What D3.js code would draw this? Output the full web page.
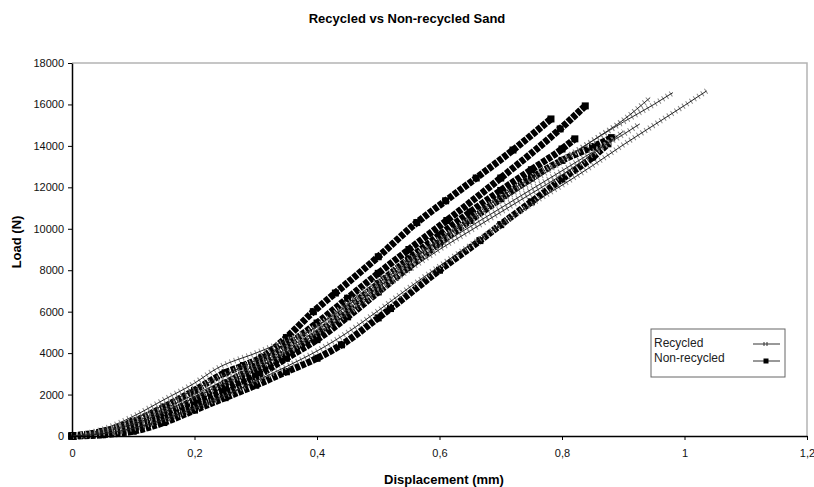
<!DOCTYPE html>
<html>
<head>
<meta charset="utf-8">
<script src="https://cdn.jsdelivr.net/npm/d3@7"></script>
<style>
	body { margin: 0; background: #fff; }
	text { font-family: Arial, "Liberation Sans", sans-serif; }
</style>
</head>
<body>
<svg id="svgCanvas" width="814" height="487"></svg>
<script>

var xTicks = [0, 0.2, 0.4, 0.6, 0.8, 1, 1.2];
var yTicks = [0, 2000, 4000, 6000, 8000, 10000, 12000, 14000, 16000, 18000];
var seriesNames = ["Recycled", "Non-recycled"];

// non-recycled specimens, [displacement mm, load N]
var nr1 = [[0,0],[0.05,220],[0.1,700],[0.15,1400],[0.2,2200],[0.25,3050],[0.28,3400],[0.31,3800],[0.35,4750],[0.394,6000],[0.43,6900],[0.5,8650],[0.563,10300],[0.61,11350],[0.66,12450],[0.72,13800],[0.782,15300]];
var nr2 = [[0,0],[0.05,160],[0.1,520],[0.15,1050],[0.2,1750],[0.25,2550],[0.3,3350],[0.35,4350],[0.4,5450],[0.45,6650],[0.5,7850],[0.55,9000],[0.612,10400],[0.7,12450],[0.797,14820],[0.838,15930]];
var nr3 = [[0,0],[0.05,130],[0.1,440],[0.15,920],[0.2,1550],[0.25,2250],[0.3,3050],[0.35,3950],[0.4,4950],[0.45,6150],[0.5,7350],[0.55,8550],[0.6,9700],[0.65,10800],[0.7,11850],[0.75,12850],[0.8,13850],[0.821,14340]];
var nr4 = [[0,0],[0.05,110],[0.1,370],[0.15,820],[0.2,1350],[0.25,2050],[0.3,2850],[0.35,3750],[0.4,4650],[0.45,5750],[0.5,6950],[0.55,8150],[0.6,9300],[0.65,10400],[0.7,11450],[0.75,12450],[0.8,13300],[0.85,13950],[0.881,14400]];
var nr5 = [[0,0],[0.05,60],[0.1,230],[0.15,650],[0.2,1250],[0.25,1850],[0.3,2450],[0.35,3100],[0.4,3750],[0.44,4400],[0.5,5700],[0.52,6150],[0.6,8000],[0.666,9430],[0.7,10200],[0.75,11300],[0.8,12400],[0.85,13450],[0.875,14100]];

// recycled specimens
var r1 = [[0,0],[0.05,320],[0.1,950],[0.15,1750],[0.2,2550],[0.236,3250],[0.3,4000],[0.35,4600],[0.389,5100],[0.45,6400],[0.5,7500],[0.55,8500],[0.6,9500],[0.65,10500],[0.7,11550],[0.764,12680],[0.85,14250],[0.9,15150],[0.95,16000],[0.981,16570]];
var r2 = [[0,0],[0.05,260],[0.1,800],[0.15,1500],[0.2,2250],[0.25,2950],[0.3,3650],[0.35,4400],[0.4,5300],[0.45,6300],[0.5,7350],[0.55,8400],[0.6,9450],[0.65,10400],[0.7,11350],[0.75,12250],[0.8,13250],[0.85,14250],[0.9,15250],[0.944,16330]];
var r3 = [[0,0],[0.05,200],[0.1,650],[0.15,1300],[0.2,2000],[0.25,2700],[0.3,3400],[0.35,4200],[0.4,5100],[0.45,6100],[0.5,7200],[0.55,8200],[0.6,9200],[0.65,10100],[0.7,11000],[0.75,11900],[0.8,12800],[0.85,13700],[0.9,14550],[0.927,15060]];
var r4 = [[0,0],[0.05,180],[0.1,560],[0.15,1150],[0.2,1850],[0.25,2550],[0.3,3250],[0.35,4050],[0.4,4950],[0.45,5900],[0.5,6950],[0.55,8000],[0.6,9000],[0.65,9900],[0.7,10800],[0.75,11700],[0.8,12600],[0.85,13600],[0.9,14700]];
var r5 = [[0,0],[0.05,110],[0.1,380],[0.15,800],[0.2,1350],[0.25,1950],[0.3,2650],[0.35,3350],[0.4,4100],[0.45,5000],[0.5,6050],[0.55,7150],[0.6,8200],[0.65,9200],[0.7,10200],[0.764,11450],[0.8,12100],[0.85,13050],[0.9,14050],[0.95,15000],[1,15950],[1.036,16650]];

var nonRecycled = [nr1, nr2, nr3, nr4, nr5];
var recycled = [r1, r2, r3, r4, r5];

var svg = d3.select("#svgCanvas");

var x = d3.scaleLinear().domain([0, 1.2]).range([72, 807]);
var y = d3.scaleLinear().domain([0, 18000]).range([436, 63]);

var line = d3.line()
	.curve(d3.curveMonotoneX)
	.x(function(d) { return x(d[0]); })
	.y(function(d) { return y(d[1]); });

function commaFormat(d){
	return String(d).replace(".", ",");
}

// plot area frame, top and right in grey
svg.append("path")
	.attr("d", "M" + x(0) + "," + y(18000) + "H" + x(1.2) + "V" + y(0))
	.attr("fill", "none")
	.attr("stroke", "#b4b4b4")
	.attr("stroke-width", 1.5);

// non-recycled: heavy black line with square markers
var nrG = svg.append("g").attr("class", "nonrecycled");
nonRecycled.forEach(function(s){
	nrG.append("path")
		.datum(s)
		.attr("d", line)
		.attr("fill", "none")
		.attr("stroke", "#000")
		.attr("stroke-width", 7)
		.attr("stroke-dasharray", "5,1.2");
	nrG.selectAll(null)
		.data(s)
		.enter().append("rect")
			.attr("x", function(d) { return x(d[0]) - 3.5; })
			.attr("y", function(d) { return y(d[1]) - 3.5; })
			.attr("width", 7)
			.attr("height", 7)
			.attr("fill", "#000");
});

// recycled: thin line with cross markers
var rG = svg.append("g").attr("class", "recycled");
recycled.forEach(function(s){
	rG.append("path")
		.datum(s)
		.attr("d", line)
		.attr("fill", "none")
		.attr("stroke", "#8a8a8a")
		.attr("stroke-width", 6)
		.attr("stroke-dasharray", "1,3.5");
	rG.append("path")
		.datum(s)
		.attr("d", line)
		.attr("fill", "none")
		.attr("stroke", "#222")
		.attr("stroke-width", 1);
});

// axes
var yAxis = svg.append("g")
	.attr("transform", "translate(" + x(0) + ",0)")
	.call(d3.axisLeft(y).tickValues(yTicks).tickFormat(d3.format("d")).tickSize(4).tickSizeOuter(0).tickPadding(4));

var xAxis = svg.append("g")
	.attr("transform", "translate(0," + y(0) + ")")
	.call(d3.axisBottom(x).tickValues(xTicks).tickFormat(commaFormat).tickSize(4).tickSizeOuter(0).tickPadding(9));

[yAxis, xAxis].forEach(function(a){
	a.select(".domain").attr("stroke", "#000").attr("stroke-width", 1.5);
	a.selectAll(".tick line").attr("stroke", "#000");
	a.selectAll("text")
		.attr("fill", "#111")
		.style("font-size", "11px")
		.style("font-family", "Arial, 'Liberation Sans', sans-serif");
});

// titles
svg.append("text")
	.attr("x", 407)
	.attr("y", 23)
	.attr("text-anchor", "middle")
	.style("font-size", "13px")
	.style("font-weight", "bold")
	.text("Recycled vs Non-recycled Sand");

svg.append("text")
	.attr("x", 444)
	.attr("y", 484)
	.attr("text-anchor", "middle")
	.style("font-size", "13px")
	.style("font-weight", "bold")
	.text("Displacement (mm)");

svg.append("text")
	.attr("transform", "translate(21,242) rotate(-90)")
	.attr("text-anchor", "middle")
	.style("font-size", "13px")
	.style("font-weight", "bold")
	.text("Load (N)");

// legend
var legend = svg.append("g").attr("transform", "translate(651,329)");
legend.append("rect")
	.attr("width", 134)
	.attr("height", 48)
	.attr("fill", "#fff")
	.attr("stroke", "#666")
	.attr("stroke-width", 1);

legend.selectAll("text")
	.data(seriesNames)
	.enter().append("text")
		.attr("x", 3)
		.attr("y", function(d, i) { return 18 + i * 15; })
		.attr("fill", "#222")
		.style("font-size", "12px")
		.text(function(d) { return d; });

legend.selectAll("line")
	.data(seriesNames)
	.enter().append("line")
		.attr("x1", 102)
		.attr("x2", 129)
		.attr("y1", function(d, i) { return 15 + i * 17; })
		.attr("y2", function(d, i) { return 15 + i * 17; })
		.attr("stroke", "#333")
		.attr("stroke-width", 1);

legend.append("path")
	.attr("d", "M113,13v4M116,13v4")
	.attr("stroke", "#333")
	.attr("stroke-width", 1);

legend.append("rect")
	.attr("x", 112.5)
	.attr("y", 29.5)
	.attr("width", 5)
	.attr("height", 5)
	.attr("fill", "#000");

</script>
</body>
</html>
